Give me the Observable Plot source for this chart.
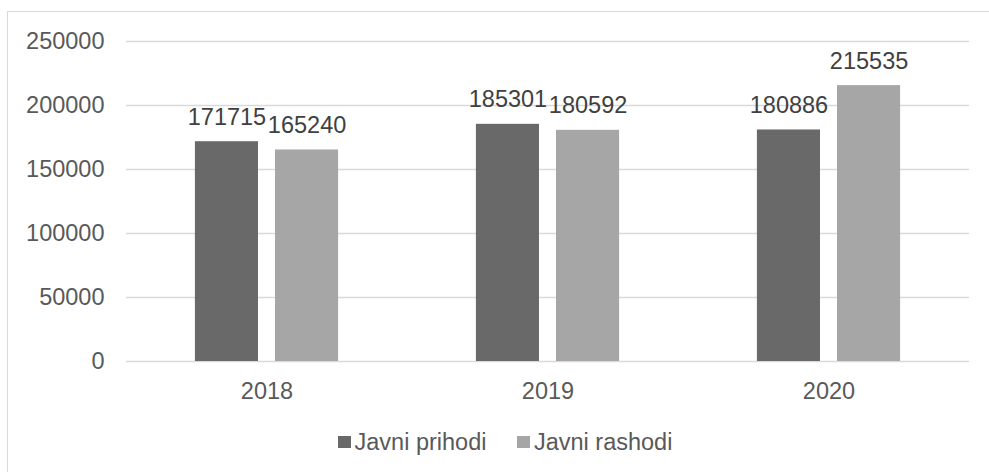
<!DOCTYPE html>
<html>
<head>
<meta charset="utf-8">
<script src="https://cdn.jsdelivr.net/npm/d3@7"></script>
<script src="https://cdn.jsdelivr.net/npm/@observablehq/plot@0.6"></script>
<style>
  html, body { margin: 0; padding: 0; background: #fff; overflow: hidden; width: 989px; height: 472px; }
  body { position: relative; font-family: "Liberation Sans", Arial, sans-serif; }
  #frame { position: absolute; left: 7px; top: 11px; width: 1100px; height: 600px; border-left: 1.5px solid #d9d9d9; border-top: 1.5px solid #d9d9d9; box-sizing: border-box; }
  #chart { position: absolute; left: 0; top: 0; }
  #legend { position: absolute; left: 338px; top: 429px; display: flex; align-items: center; font-size: 23.5px; line-height: 26px; color: #595959; white-space: nowrap; }
  .item { display: flex; align-items: center; }
  .item + .item { margin-left: 31px; }
  .sw { width: 12.5px; height: 12.5px; margin-right: 4px; }
</style>
</head>
<body>
<div id="frame"></div>
<div id="chart"></div>
<div id="legend"></div>
<script>
const years = ["2018", "2019", "2020"];
const seriesNames = ["Javni prihodi", "Javni rashodi"];
const prihodi = [171715, 185301, 180886];
const rashodi = [165240, 180592, 215535];
const yTicks = [0, 50000, 100000, 150000, 200000, 250000];
const colors = ["#696969", "#a6a6a6"];

const data = [];
years.forEach((y, i) => {
  data.push({year: y, series: seriesNames[0], value: prihodi[i]});
  data.push({year: y, series: seriesNames[1], value: rashodi[i]});
});

const chart = Plot.plot({
  width: 989,
  height: 420,
  marginLeft: 126,
  marginRight: 20,
  marginTop: 41,
  marginBottom: 59,
  style: {fontFamily: "'Liberation Sans', Arial, sans-serif", fontSize: "23.5px", background: "transparent", overflow: "visible"},
  fx: {domain: years, padding: 0, round: false, label: null, axis: null},
  x: {domain: seriesNames, paddingInner: 0.2125, paddingOuter: 0.86, round: false, axis: null},
  y: {domain: [0, 250000], label: null},
  color: {domain: seriesNames, range: colors},
  marks: [
    Plot.gridY(yTicks, {stroke: "#d9d9d9", strokeOpacity: 1, strokeWidth: 1.5}),
    Plot.axisY(yTicks, {tickSize: 0, tickPadding: 22, fill: "#595959", label: null, tickFormat: d => String(d)}),
    Plot.axisFx({anchor: "bottom", tickSize: 0, tickPadding: 21, fill: "#595959", label: null}),
    Plot.barY(data, {fx: "year", x: "series", y: "value", fill: "series"}),
    Plot.text(data, {fx: "year", x: "series", y: "value", text: d => String(d.value), lineAnchor: "bottom", dy: -17, fill: "#404040"})
  ]
});
document.getElementById("chart").appendChild(chart);

const legend = document.getElementById("legend");
seriesNames.forEach((name, i) => {
  const item = document.createElement("div");
  item.className = "item";
  const sw = document.createElement("span");
  sw.className = "sw";
  sw.style.background = colors[i];
  const label = document.createElement("span");
  label.textContent = name;
  item.appendChild(sw);
  item.appendChild(label);
  legend.appendChild(item);
});
</script>
</body>
</html>
